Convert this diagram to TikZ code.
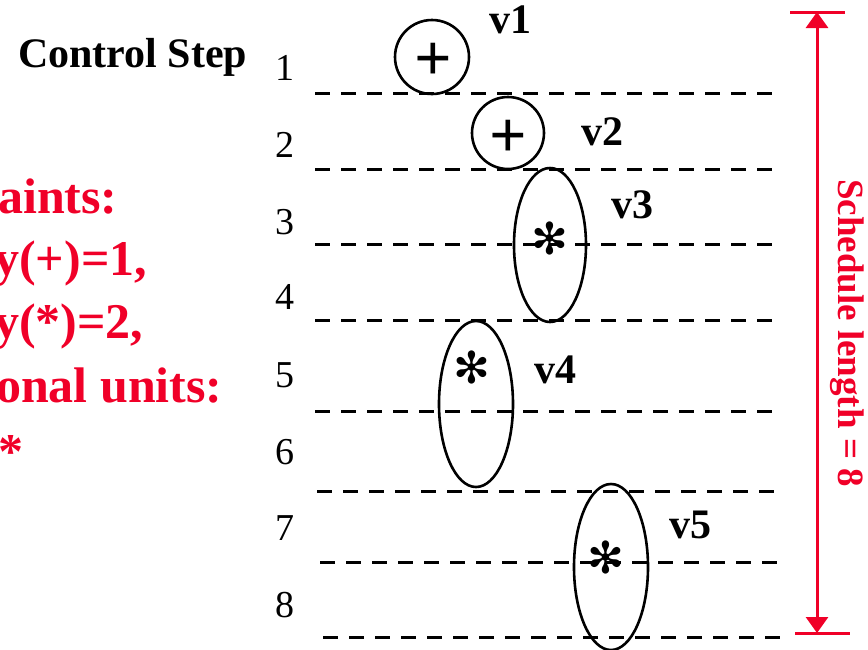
\documentclass[tikz,border=0pt]{standalone}
\usepackage{fontspec}
\setmainfont{Liberation Serif}
\newfontfamily\djfont{DejaVu Sans}
\usetikzlibrary{shapes.geometric,arrows.meta}
\definecolor{redc}{RGB}{240,0,40}
\tikzset{
  dline/.style={line width=3pt, dash pattern=on 15pt off 11pt},
  opnode/.style={draw, line width=2.6pt, ellipse, inner sep=0pt},
  num/.style={font=\fontsize{38}{38}\selectfont},
  vlabel/.style={font=\fontsize{42}{42}\selectfont\bfseries},
  plussym/.style={font=\fontsize{66}{66}\selectfont\bfseries, inner sep=0pt},
  starsym/.style={font=\fontsize{44}{44}\selectfont\djfont, inner sep=0pt},
  redtxt/.style={text=redc, font=\fontsize{50}{50}\selectfont\bfseries, anchor=base west, inner sep=0pt},
}
\begin{document}
\begin{tikzpicture}[x=1pt,y=-1pt]
\useasboundingbox (0,0) rectangle (868,649);
% dashed lines
\foreach \i/\y/\xa/\xb in {1/93/315/780,2/169/315/780,3/244/315/780,4/320/315/780,5/411/315/780,6/491/317/781,7/562/320/783,8/637/323/785}{
  \coordinate (l\i a) at (\xa,\y);
  \coordinate (l\i b) at (\xb,\y);
  \draw[dline] (l\i a) -- (l\i b);
}
% step numbers
\foreach \i/\y in {1/68,2/145,3/222,4/297,5/375,6/452,7/528,8/605}{
  \node[num] (n\i) at (285,\y) {\i};
}
\node[font=\fontsize{42}{42}\selectfont\bfseries, anchor=base west, inner sep=0pt] (cs) at (18,67) {Control Step};
% operations
\node[opnode, minimum width=74pt, minimum height=74pt] (v1) at (432,57) {};
\node[opnode, minimum width=72pt, minimum height=72pt] (v2) at (508,133) {};
\node[opnode, minimum width=72pt, minimum height=154pt] (v3) at (550,245) {};
\node[opnode, minimum width=74pt, minimum height=166pt] (v4) at (476,404) {};
\node[opnode, minimum width=74pt, minimum height=166pt] (v5) at (611,567) {};
\node[plussym] (p1) at (433,62) {+};
\node[plussym] (p2) at (508,139) {+};
\node[starsym] (s3) at (550,238) {✻};
\node[starsym] (s4) at (472,367) {✻};
\node[starsym] (s5) at (606,557) {✻};
\node[vlabel] (t1) at (510,20) {v1};
\node[vlabel] (t2) at (602,132) {v2};
\node[vlabel] (t3) at (632,205) {v3};
\node[vlabel] (t4) at (555,370) {v4};
\node[vlabel] (t5) at (690,525) {v5};
% red constraints text
\node[redtxt] (r1) at (-2,213) {aints:};
\node[redtxt] (r2) at (-6,275) {y(+)=1,};
\node[redtxt] (r3) at (-6,338) {y(*)=2,};
\node[redtxt] (r4) at (-4,402) {onal units:};
\node[redtxt] (r5) at (-2,468) {*};
% schedule length arrow
\coordinate (ta) at (790,12);
\coordinate (tb) at (845,12);
\coordinate (ba) at (795,633);
\coordinate (bb) at (850,633);
\coordinate (top) at (817,12);
\coordinate (bot) at (817,633);
\draw[redc, line width=3pt] (ta) -- (tb);
\draw[redc, line width=3pt] (ba) -- (bb);
\draw[redc, line width=3pt, {Triangle[length=16pt,width=22pt]}-{Triangle[length=16pt,width=22pt]}] (top) -- (bot);
\node[text=redc, font=\fontsize{37}{37}\selectfont\bfseries, rotate=-90] (sl) at (847,333) {Schedule length = 8};
\end{tikzpicture}
\end{document}
